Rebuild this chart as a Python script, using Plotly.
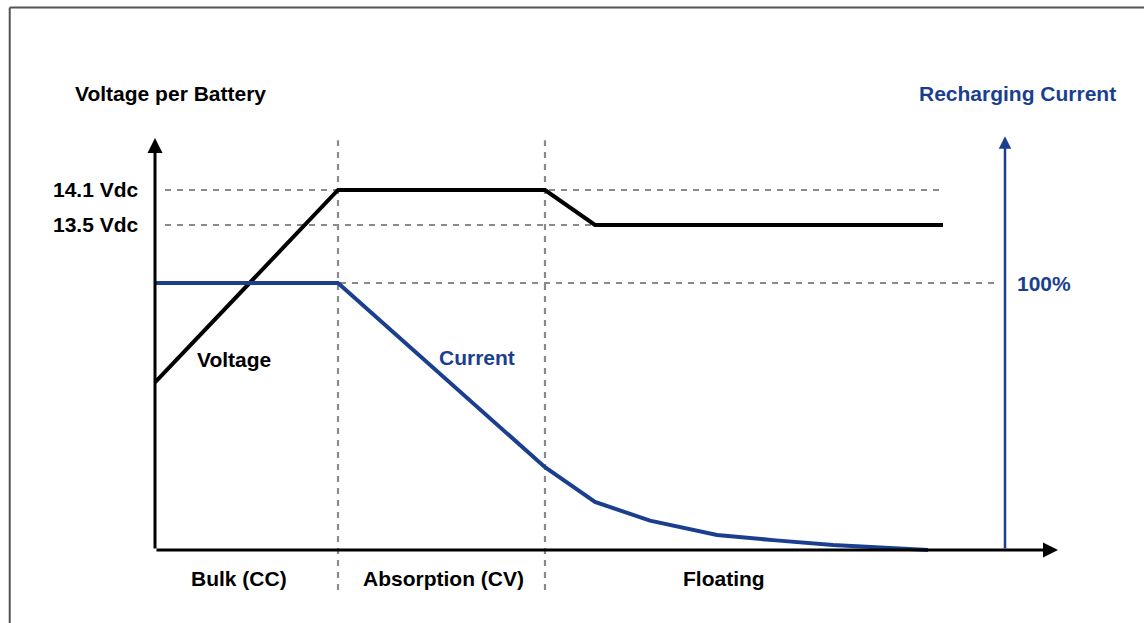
import plotly.graph_objects as go

# charge stages (time in arbitrary units)
stage_edges = [18.3, 39.0]
stage_names = ["Bulk (CC)", "Absorption (CV)", "Floating"]
stage_centers = [8.4, 28.8, 56.9]

# voltage per battery (V)
volt_t = [0, 18.3, 39.0, 44.0, 78.8]
volt_v = [10.8, 14.1, 14.1, 13.5, 13.5]
volt_levels = [14.1, 13.5]
volt_labels = ["14.1 Vdc", "13.5 Vdc"]

# recharging current (%)
curr_t = [0, 18.3, 39.0, 44.0, 49.5, 56.2, 61.8, 67.8, 77.3]
curr_i = [100, 100, 31, 18, 11, 5.6, 3.7, 1.9, 0]

BLUE = "#1b3f8f"
GRAY = "#8a8a8a"
FONT = "Liberation Sans, Arial, sans-serif"

fig = go.Figure()

fig.add_trace(go.Scatter(x=volt_t, y=volt_v, mode="lines",
                         line=dict(color="black", width=4), yaxis="y"))
fig.add_trace(go.Scatter(x=curr_t, y=curr_i, mode="lines",
                         line=dict(color=BLUE, width=4), yaxis="y2"))

shapes = []
# dotted guides
dots = dict(color=GRAY, width=2.2, dash="6px,6px")
for v in volt_levels:
    shapes.append(dict(type="line", xref="x", yref="y", x0=1.0, x1=78.8, y0=v, y1=v,
                       line=dots, layer="below"))
shapes.append(dict(type="line", xref="x", yref="y2", x0=18.5, x1=84.5, y0=100, y1=100,
                   line=dots, layer="below"))
for e in stage_edges:
    shapes.append(dict(type="line", xref="x", yref="paper", x0=e, x1=e, y0=0.053, y1=0.775,
                       line=dots, layer="below"))
# frame
shapes.append(dict(type="line", xref="paper", yref="paper", x0=0.0085, x1=0.0085, y0=0, y1=0.988,
                   line=dict(color="#555", width=2)))
shapes.append(dict(type="line", xref="paper", yref="paper", x0=0.0085, x1=1, y0=0.988, y1=0.988,
                   line=dict(color="#555", width=2)))

annotations = []
# axes with arrows
arrow = dict(showarrow=True, arrowhead=2, arrowsize=1, text="")
annotations.append(dict(x=0, y=14.99, ax=0, ay=7.93, xref="x", yref="y", axref="x", ayref="y",
                        arrowwidth=3, arrowcolor="black", **arrow))
annotations.append(dict(x=90.3, y=7.93, ax=0, ay=7.93, xref="x", yref="y", axref="x", ayref="y",
                        arrowwidth=3, arrowcolor="black", **arrow))
annotations.append(dict(x=85.0, y=155, ax=85.0, ay=0, xref="x", yref="y2", axref="x", ayref="y2",
                        arrowwidth=2.5, arrowcolor=BLUE, **arrow))


def label(text, x, y, yref="y", color="black", size=21, xanchor="center"):
    annotations.append(dict(text=f"<b>{text}</b>", x=x, y=y, xref="x", yref=yref, showarrow=False,
                            xanchor=xanchor, yanchor="middle",
                            font=dict(family=FONT, size=size, color=color)))


label("Voltage per Battery", -8.2, 15.76, xanchor="left")
label("Recharging Current", 76.2, 171, yref="y2", color=BLUE, xanchor="left")
for v, t in zip(volt_levels, volt_labels):
    label(t, -1.4, v, xanchor="right")
label("100%", 86.0, 100, yref="y2", color=BLUE, xanchor="left")
label("Voltage", 7.9, 11.2)
label("Current", 32.2, 72, yref="y2", color=BLUE)
for name, c in zip(stage_names, stage_centers):
    label(name, c, -10.5, yref="y2")

fig.update_layout(
    width=1144, height=623,
    margin=dict(l=0, r=0, t=0, b=0),
    plot_bgcolor="white", paper_bgcolor="white",
    showlegend=False,
    hovermode=False,
    xaxis=dict(range=[-15.5, 98.9], visible=False, fixedrange=True),
    yaxis=dict(range=[6.677, 17.357], visible=False, fixedrange=True),
    yaxis2=dict(range=[-27.34, 205.99], visible=False, overlaying="y", fixedrange=True),
    shapes=shapes,
    annotations=annotations,
)

fig.write_html("out.html", config={"displayModeBar": False},
               post_script="document.body.style.margin='0';document.body.style.overflow='hidden';")
